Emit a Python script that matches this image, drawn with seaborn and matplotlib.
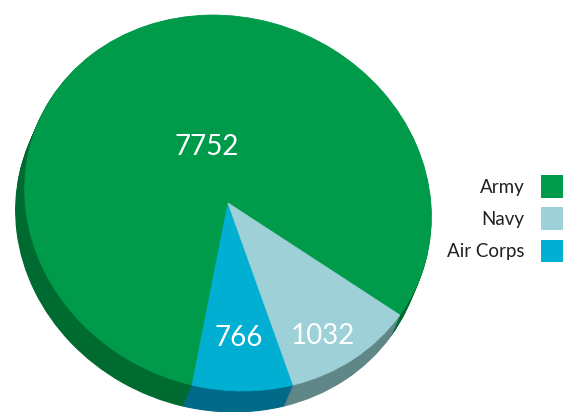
import matplotlib
matplotlib.use('Agg')
import matplotlib.pyplot as plt
import matplotlib.patches as mpatches
from matplotlib.transforms import Affine2D
import numpy as np
import seaborn as sns

# data
categories = ['Army', 'Navy', 'Air Corps']
counts = [7752, 1032, 766]
face_colors = ['#009a4b', '#9dd0d7', '#00afd1']
side_colors = ['#006b30', '#5f8788', '#006a88']

# pie goes counter-clockwise: Army, Air Corps, Navy
pie_order = ['Army', 'Air Corps', 'Navy']
idx = [categories.index(c) for c in pie_order]
vals = [counts[i] for i in idx]
fc = [face_colors[i] for i in idx]
sc = [side_colors[i] for i in idx]

sns.set_theme(style='white')
plt.rcParams['font.family'] = ['Lato', 'DejaVu Sans']

W, H = 563, 412
fig = plt.figure(figsize=(W / 100, H / 100), dpi=100)
ax = fig.add_axes([0, 0, 1, 1])

# tilted disc: circle -> ellipse in pixel space
cx, cy = 228, 203
a, b, rot = 206, 185, -21.4
depth = 21
slant = -9 / 21


def disc(dx=0.0, dy=0.0):
    return (Affine2D().scale(a, b).rotate_deg(rot).scale(1, -1)
            .translate(cx + dx, cy + dy) + ax.transData)


start = -13
# side wall, back to front
for t in range(depth, 0, -1):
    wedges, _ = ax.pie(vals, colors=sc, startangle=start, counterclock=True)
    tr = disc(t * slant, t)
    for w, c in zip(wedges, sc):
        w.set_transform(tr)
        w.set_edgecolor(c)
        w.set_linewidth(0.8)

wedges, _ = ax.pie(vals, colors=fc, startangle=start, counterclock=True)
tr = disc()
for w, c in zip(wedges, fc):
    w.set_transform(tr)
    w.set_edgecolor(c)
    w.set_linewidth(0.6)

# value labels: (radius, angle tweak) in disc coords
label_pos = {'Army': (0.31, -4), 'Air Corps': (0.72, 0), 'Navy': (0.82, -3.5)}
total = sum(vals)
ang = start
for name, v in zip(pie_order, vals):
    span = 360 * v / total
    r, da = label_pos[name]
    mid = np.deg2rad(ang + span / 2 + da)
    ax.text(r * np.cos(mid), r * np.sin(mid), str(v), transform=tr,
            color='white', fontsize=20, ha='center', va='center')
    ang += span

ax.set_aspect('auto')
ax.set_xlim(0, W)
ax.set_ylim(H, 0)
ax.axis('off')

handles = [mpatches.Patch(facecolor=c, edgecolor='none') for c in face_colors]
leg = ax.legend(handles, categories, loc='upper right',
                bbox_to_anchor=(1.0, 1 - 175 / H), bbox_transform=fig.transFigure,
                frameon=False, markerfirst=False, fontsize=13.5,
                handlelength=1.2, handleheight=1.5, handletextpad=0.85,
                labelspacing=0.5, borderpad=0, borderaxespad=0)
for txt in leg.get_texts():
    txt.set_color('#231f20')

fig.savefig('out.png', dpi=100)
